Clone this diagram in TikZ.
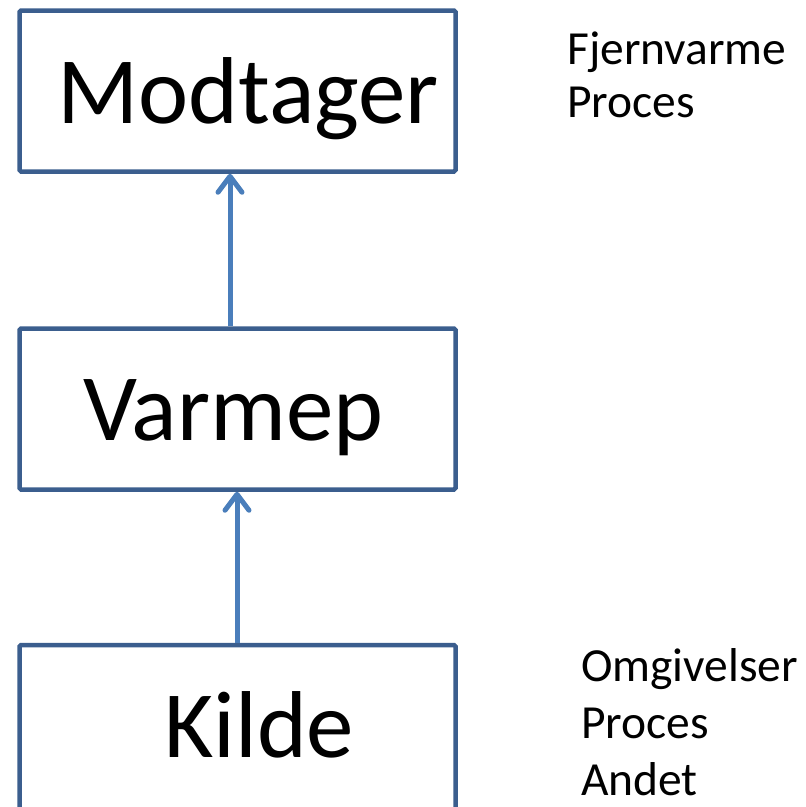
\documentclass[tikz,border=0pt]{standalone}
\usepackage{fontspec}
\setmainfont{Carlito}
\usetikzlibrary{arrows.meta}

\definecolor{boxblue}{HTML}{3B5E8E}
\definecolor{arrowblue}{HTML}{4A7EBB}

\tikzset{
  blockbox/.style={draw=boxblue, line width=4.5pt, rounded corners=1.5pt,
    minimum width=436pt, minimum height=161pt, inner sep=0pt, outer sep=2.25pt},
  bigtext/.style={font=\fontsize{95}{110}\selectfont, inner sep=0pt, anchor=base west},
  sidetext/.style={inner sep=0pt, anchor=base west, align=left},
  flow/.style={draw=arrowblue, line width=5pt,
    -{Straight Barb[length=16pt, width=24pt, line cap=round, line join=round]}}
}

\begin{document}
\begin{tikzpicture}[x=1pt, y=-1pt]
  \useasboundingbox (0,0) rectangle (806,807);
  \clip (0,0) rectangle (806,807);

  % the three stages
  \node[blockbox] (modtager) at (237.5,91) {};
  \node[blockbox] (varmep) at (237.5,409) {};
  \node[blockbox, minimum height=200pt] (kilde) at (237.5,745) {};

  \node[bigtext] (modtagertxt) at (57,123) {Modtager};
  \node[bigtext] (varmeptxt) at (83,440) {Varmep};
  \node[bigtext] (kildetxt) at (164,757) {Kilde};

  % heat flow upwards
  \draw[flow] ([xshift=-7.5pt]varmep.north) -- ([xshift=-7.5pt]modtager.south);
  \draw[flow] ([xshift=-0.5pt]kilde.north) -- ([xshift=-0.5pt]varmep.south);

  % examples beside the boxes (anchored at the baseline of the last line)
  \node[sidetext, font=\fontsize{47.5}{53}\selectfont] (modtagerex) at (567,117)
    {Fjernvarme\\Proces};
  \node[sidetext, font=\fontsize{47.5}{57}\selectfont] (kildeex) at (581,795)
    {Omgivelser\\Proces\\Andet};
\end{tikzpicture}
\end{document}
